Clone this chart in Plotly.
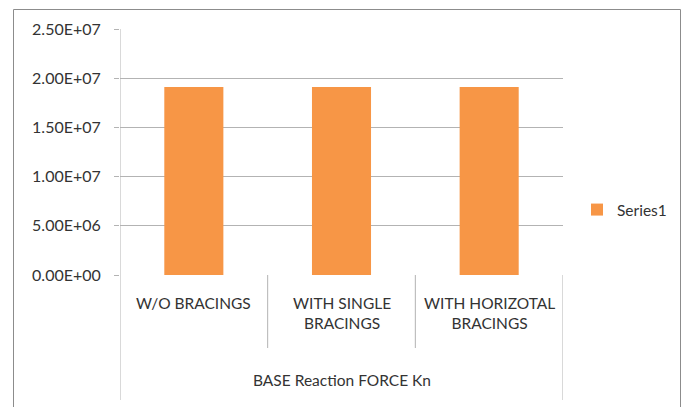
import plotly.graph_objects as go

categories = ["W/O BRACINGS", "WITH SINGLE<br>BRACINGS", "WITH HORIZOTAL<br>BRACINGS"]
group_label = "BASE Reaction FORCE Kn"
series_name = "Series1"
values = [1.91e7, 1.91e7, 1.91e7]
y_ticks = [0, 5e6, 1e7, 1.5e7, 2e7, 2.5e7]
y_tick_labels = ["0.00E+00", "5.00E+06", "1.00E+07", "1.50E+07", "2.00E+07", "2.50E+07"]

W, H = 686, 407
ml, mr, mt, mb = 120, 123, 29, 132
pw, ph = W - ml - mr, H - mt - mb

bar_color = "#F79646"
grid_color = "#B3B3B3"
text_color = "#333333"
font_family = "Lato, 'Open Sans', sans-serif"

xs = list(range(len(categories)))

fig = go.Figure()
fig.add_trace(go.Bar(
    x=xs, y=values, name=series_name, width=0.4,
    marker=dict(color=bar_color, line=dict(width=0)),
    showlegend=True,
))

def py(pix):
    # pixel row -> paper y
    return (H - mb - pix) / ph

def px(pix):
    return (pix - ml) / pw

shapes = []
# category dividers below the axis
n = len(categories)
for i in range(n + 1):
    xb = i - 0.5
    bottom = py(400) if i in (0, n) else py(348)
    shapes.append(dict(type="line", xref="x", yref="paper", x0=xb, x1=xb,
                       y0=0, y1=bottom, line=dict(color=grid_color, width=1)))
# y axis line
shapes.append(dict(type="line", xref="x", yref="paper", x0=-0.5, x1=-0.5,
                   y0=0, y1=1, line=dict(color=grid_color, width=1)))
# chart border
shapes.append(dict(type="rect", xref="paper", yref="paper",
                   x0=px(13.5), x1=px(680.5), y0=py(420), y1=py(9.5),
                   line=dict(color="#8C8C8C", width=1), layer="below"))

cat_font = dict(size=15.5, color=text_color, family=font_family)
annotations = []
for i, c in enumerate(categories):
    annotations.append(dict(x=i, y=py(292), xref="x", yref="paper", text=c,
                            showarrow=False, xanchor="center", yanchor="top",
                            font=cat_font))
annotations.append(dict(x=(n - 1) / 2, y=py(380), xref="x", yref="paper",
                        text=group_label, showarrow=False, xanchor="center",
                        yanchor="middle", font=cat_font))

fig.update_layout(
    width=W, height=H,
    margin=dict(l=ml, r=mr, t=mt, b=mb, autoexpand=False),
    paper_bgcolor="white", plot_bgcolor="white",
    font=dict(family=font_family, color=text_color, size=15.5),
    xaxis=dict(range=[-0.5, n - 0.5], showticklabels=False, showgrid=False,
               zeroline=False, showline=False, ticks=""),
    yaxis=dict(range=[0, 2.5e7], tickvals=y_ticks, ticktext=y_tick_labels,
               showgrid=True, gridcolor=grid_color, gridwidth=1,
               zeroline=False, showline=False, ticks="outside", ticklen=5,
               tickcolor=grid_color, ticklabelstandoff=10,
               tickfont=dict(size=16, color=text_color, family=font_family)),
    legend=dict(x=px(577), y=py(210), xanchor="left", yanchor="middle",
                xref="paper", yref="paper", bgcolor="rgba(0,0,0,0)",
                font=dict(size=15.5, color=text_color, family=font_family),
                itemwidth=30),
    shapes=shapes, annotations=annotations,
)

fig.write_html("out.html")
